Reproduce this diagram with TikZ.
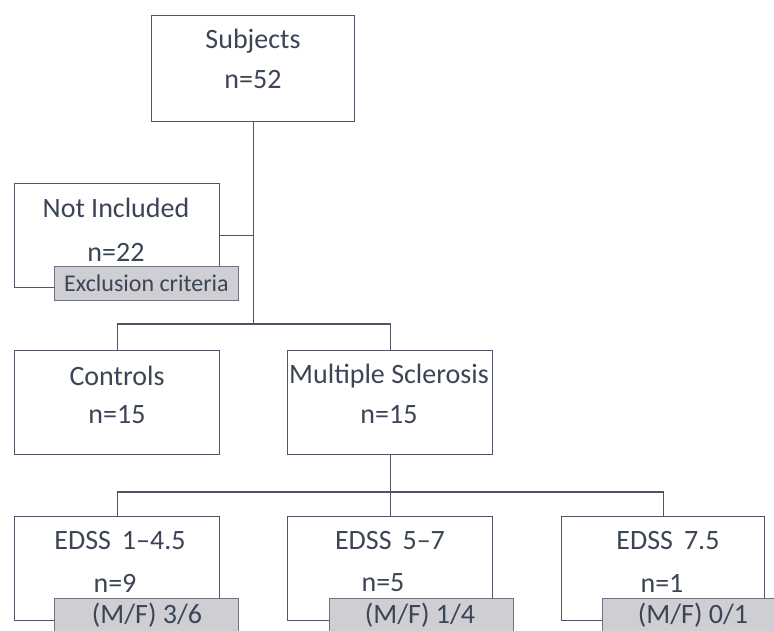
\documentclass[tikz,border=0pt]{standalone}
\usepackage{fontspec}
\setmainfont{Carlito}
\definecolor{txt}{HTML}{3C4556}
\definecolor{ln}{HTML}{4F5564}
\definecolor{gfill}{HTML}{CFCFD3}
\definecolor{gline}{HTML}{6E7280}
\begin{document}
\begin{tikzpicture}[x=1pt,y=-1pt,
  box/.style={draw=ln,line width=1.2pt,fill=white,minimum width=#1,minimum height=104pt,inner sep=0pt,anchor=north west},
  box/.default=205pt,
  gbox/.style={draw=gline,line width=1pt,fill=gfill,minimum width=184pt,minimum height=34pt,inner sep=0pt,anchor=north west,text=txt,font=\fontsize{24}{28}\selectfont},
  lbl/.style={text=txt,font=\fontsize{28}{32}\selectfont,inner sep=0pt},
  conn/.style={draw=ln,line width=1.2pt}]
\clip (0,0) rectangle (774,630);
\useasboundingbox (0,0) rectangle (774,630);
\fill[white] (0,0) rectangle (774,630);
% boxes
\node[box=203pt,minimum height=106pt] (sub) at (151,15) {};
\node[box] (ni) at (14,183) {};
\node[box] (ctrl) at (14,350) {};
\node[box] (ms) at (287,350) {};
\node[box] (e1) at (14,516) {};
\node[box] (e2) at (287,516) {};
\node[box=203pt] (e3) at (561,516) {};
% junctions
\coordinate (j1) at (sub.south |- 0,324);
\coordinate (j2) at (ms.south |- 0,492);
% connectors
\draw[conn] (sub.south) -- (j1);
\draw[conn] (ni.east) -- (ni.east -| sub.south);
\draw[conn] (ctrl.north) |- (j1) -| (ms.north);
\draw[conn] (ms.south) -- (j2);
\draw[conn] (e1.north) |- (j2) -| (e3.north);
\draw[conn] (j2) -- (e2.north);
% texts
\node[lbl] (tsub) at (253,41) {Subjects};
\node[lbl] (nsub) at (253,80) {n=52};
\node[lbl] (tni) at (116,208) {Not Included};
\node[lbl] (nni) at (116,252) {n=22};
\node[gbox] (exc) at (54,266) {Exclusion criteria};
\node[lbl] (tctrl) at (117,376) {Controls};
\node[lbl] (nctrl) at (117,415) {n=15};
\node[lbl] (tms) at (389,376) {Multiple Sclerosis};
\node[lbl] (nms) at (389,415) {n=15};
\node[lbl] (te1) at (120,541) {EDSS\, 1--4.5};
\node[lbl] (ne1) at (115,583) {n=9};
\node[lbl] (te2) at (390,541) {EDSS\, 5--7};
\node[lbl] (ne2) at (383,583) {n=5};
\node[lbl] (te3) at (668,541) {EDSS\, 7.5};
\node[lbl] (ne3) at (662,583) {n=1};
\node[gbox] (g1) at (54,598) {};
\node[lbl] (m1) at (147,615) {(M/F) 3/6};
\node[gbox] (g2) at (329,598) {};
\node[lbl] (m2) at (420,615) {(M/F) 1/4};
\node[gbox] (g3) at (602,598) {};
\node[lbl] (m3) at (693,615) {(M/F) 0/1};
\end{tikzpicture}
\end{document}
